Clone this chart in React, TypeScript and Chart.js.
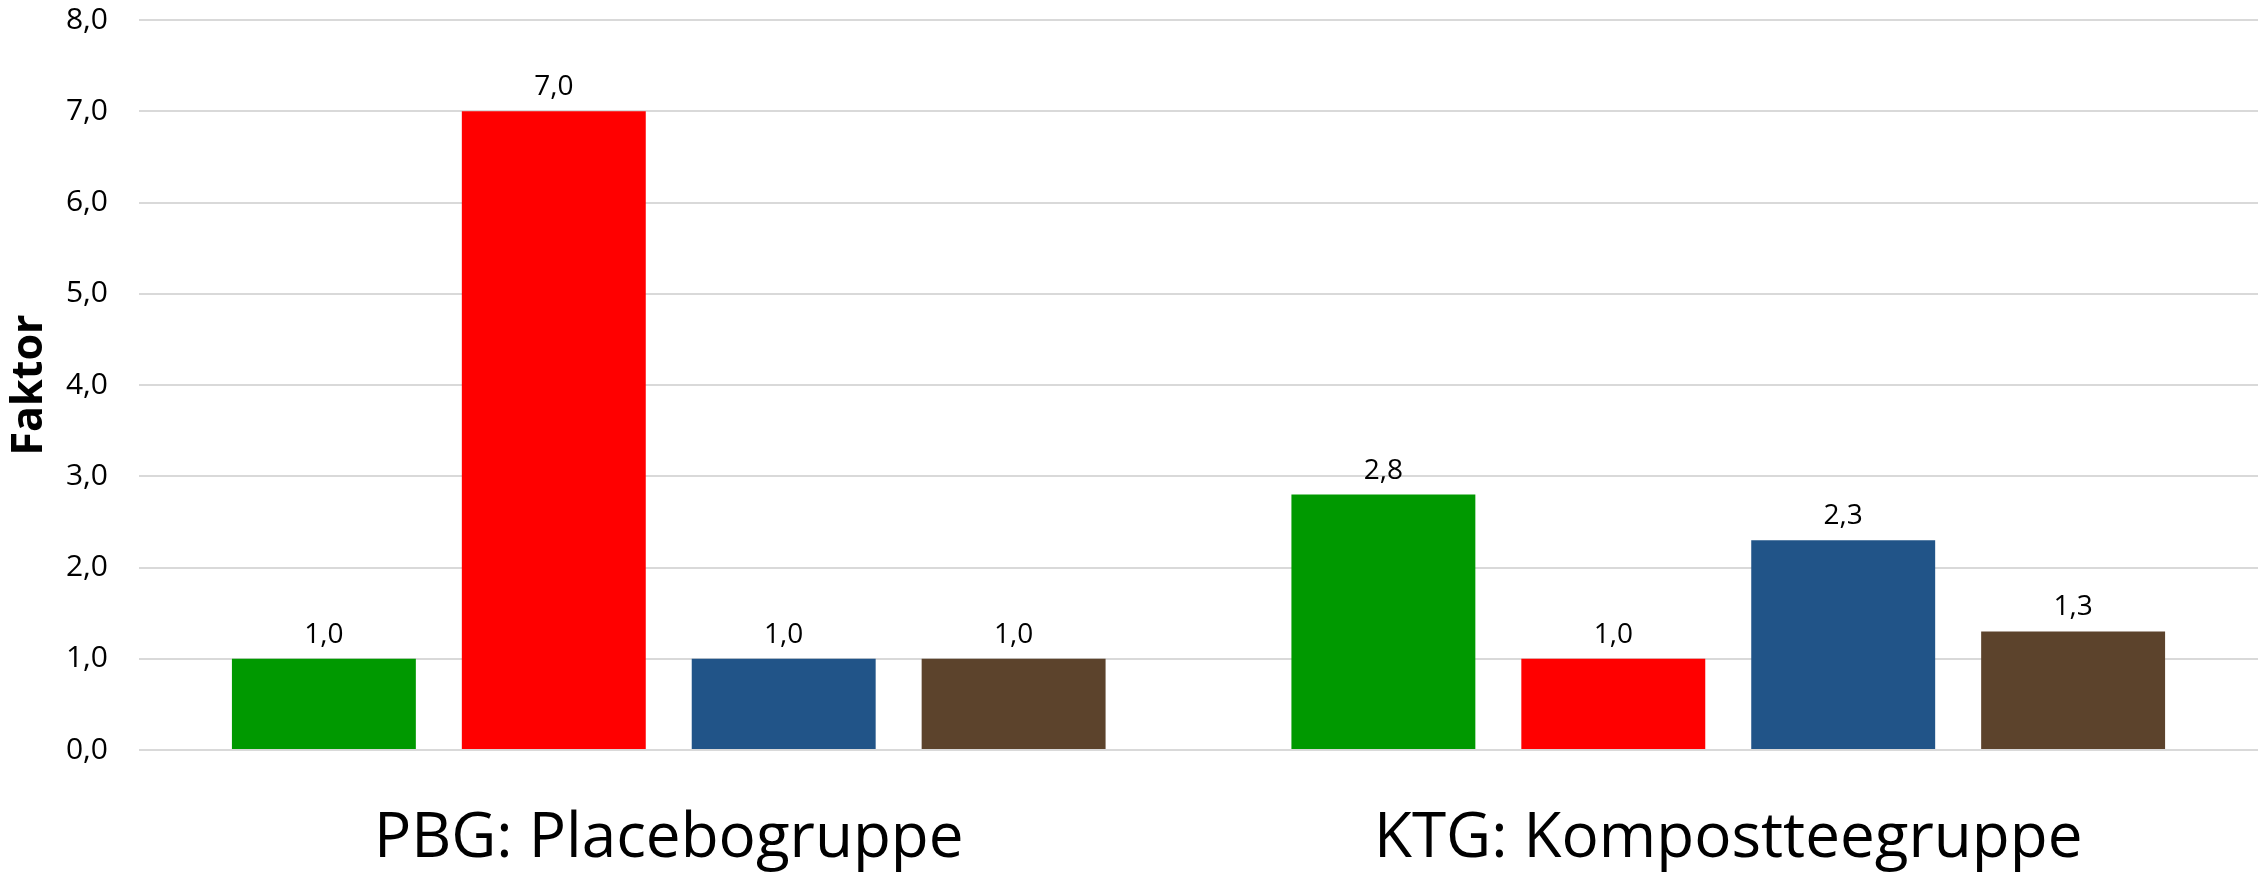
import React, { useEffect, useRef } from "react";
import { Chart, registerables } from "chart.js";

Chart.register(...registerables);

const categories = ["PBG: Placebogruppe", "KTG: Kompostteegruppe"];
const seriesA = [1.0, 2.8];
const seriesB = [7.0, 1.0];
const seriesC = [1.0, 2.3];
const seriesD = [1.0, 1.3];
const seriesColors = ["#009900", "#FF0000", "#215488", "#5C432C"];
const yTicks = [0, 1, 2, 3, 4, 5, 6, 7, 8];
const yTitle = "Faktor";

const fmt = (v: number) => v.toFixed(1).replace(".", ",");

const valueLabels = {
  id: "valueLabels",
  afterDatasetsDraw(chart: any) {
    const ctx = chart.ctx;
    ctx.save();
    ctx.font = "28px 'Open Sans'";
    ctx.fillStyle = "#000";
    ctx.textAlign = "center";
    ctx.textBaseline = "alphabetic";
    chart.data.datasets.forEach((ds: any, i: number) => {
      const meta = chart.getDatasetMeta(i);
      meta.data.forEach((bar: any, j: number) => {
        ctx.fillText(fmt(ds.data[j]), bar.x, bar.y - 16);
      });
    });
    ctx.restore();
  },
};

export default function App() {
  const ref = useRef<HTMLCanvasElement>(null);
  useEffect(() => {
    document.body.style.margin = "0";
    const data = [seriesA, seriesB, seriesC, seriesD];
    const chart = new Chart(ref.current!, {
      type: "bar",
      data: {
        labels: categories,
        datasets: data.map((d, i) => ({
          label: "S" + i,
          data: d,
          backgroundColor: seriesColors[i],
          barPercentage: 0.8,
          categoryPercentage: 0.868,
        })),
      },
      options: {
        animation: false,
        responsive: false,
        layout: { padding: { top: 20, right: 1, left: 0, bottom: 0 } },
        plugins: { legend: { display: false }, tooltip: { enabled: false } },
        scales: {
          x: {
            grid: { display: false, drawTicks: false },
            border: { display: false },
            afterFit: (s: any) => {
              s.height = 127;
              s.paddingLeft = 0;
              s.paddingRight = 0;
            },
            ticks: {
              color: "#000",
              font: { family: "'Open Sans'", size: 62 },
              padding: 52,
              maxRotation: 0,
              autoSkip: false,
            },
          },
          y: {
            min: 0,
            max: 8,
            afterBuildTicks: (s: any) => {
              s.ticks = yTicks.map((v) => ({ value: v }));
            },
            afterFit: (s: any) => {
              s.width = 139;
              s.paddingTop = 0;
              s.paddingBottom = 0;
            },
            grid: { color: "#d9d9d9", lineWidth: 2, drawTicks: false },
            border: { display: false },
            ticks: {
              color: "#000",
              font: { family: "'Open Sans'", size: 30 },
              padding: 31,
              callback: (v: any) => fmt(Number(v)),
            },
            title: {
              display: true,
              text: yTitle,
              color: "#000",
              font: { family: "'Open Sans'", size: 43, weight: "bold" },
              padding: { top: 4, bottom: 0 },
            },
          },
        },
      },
      plugins: [valueLabels],
    });
    return () => chart.destroy();
  }, []);
  return <canvas ref={ref} width={2259} height={877} style={{ display: "block" }} />;
}
